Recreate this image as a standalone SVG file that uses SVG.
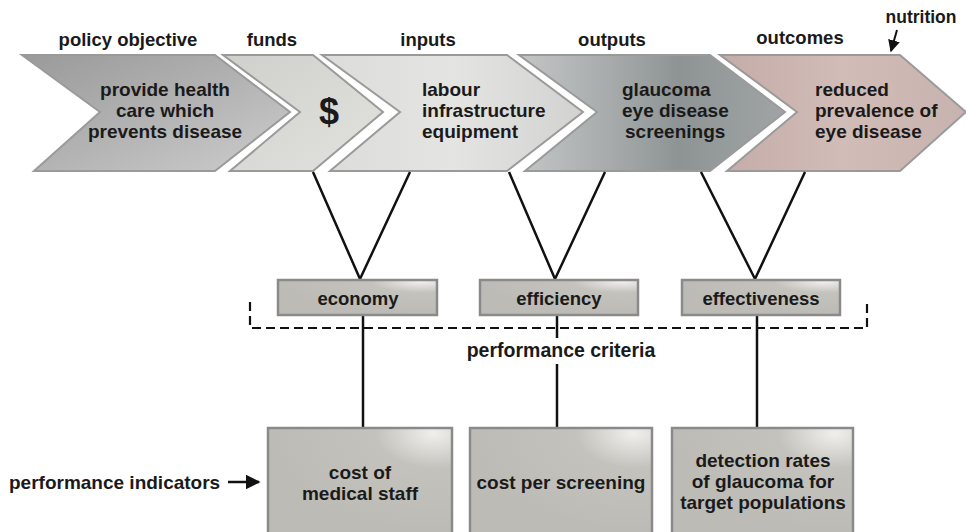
<svg xmlns="http://www.w3.org/2000/svg" width="966" height="532" viewBox="0 0 966 532">
<style>
text{font-family:"Liberation Sans",Arial,sans-serif;font-weight:bold;fill:#1a1a1a}
.h{font-size:18.5px;text-anchor:middle}
.t{font-size:19px}
.s{font-size:18.5px;text-anchor:middle}
.c{text-anchor:middle}
.chev{stroke:#9a9a9a;stroke-width:2}
.box{stroke:#8a8a8a;stroke-width:2.5}
.ln{stroke:#111;stroke-width:2.5;fill:none}
</style>
<defs>
<linearGradient id="g1" x1="0" y1="0" x2="1" y2="1"><stop offset="0" stop-color="#9a9a9a"/><stop offset="0.5" stop-color="#b2b2b2"/><stop offset="1" stop-color="#cdcdcd"/></linearGradient>
<linearGradient id="g2" x1="0" y1="0" x2="1" y2="1"><stop offset="0" stop-color="#cfcfcc"/><stop offset="1" stop-color="#e2e2df"/></linearGradient>
<linearGradient id="g3" x1="0" y1="0" x2="1" y2="0"><stop offset="0" stop-color="#dcdcda"/><stop offset="0.5" stop-color="#e4e4e2"/><stop offset="1" stop-color="#d2d2d0"/></linearGradient>
<linearGradient id="g4" x1="0" y1="0" x2="1" y2="0"><stop offset="0" stop-color="#c4c6c6"/><stop offset="0.35" stop-color="#a6aaaa"/><stop offset="0.6" stop-color="#8e9494"/><stop offset="1" stop-color="#a0a4a4"/></linearGradient>
<linearGradient id="g5" x1="0" y1="0" x2="1" y2="0"><stop offset="0" stop-color="#c4aca8"/><stop offset="0.5" stop-color="#d2bcb8"/><stop offset="1" stop-color="#c6b2ae"/></linearGradient>
<radialGradient id="gb" cx="0.9" cy="0.05" r="0.9"><stop offset="0" stop-color="#f0efec"/><stop offset="0.35" stop-color="#c4c2bc"/><stop offset="1" stop-color="#bdbbb5"/></radialGradient>
<marker id="ah" viewBox="0 0 10 10" refX="9" refY="5" markerWidth="6" markerHeight="6" orient="auto"><path d="M0,0 L10,5 L0,10 z" fill="#111"/></marker>
</defs>

<g id="headers">
<text class="h" x="128" y="46">policy objective</text>
<text class="h" x="272" y="46">funds</text>
<text class="h" x="428" y="46">inputs</text>
<text class="h" x="612" y="46">outputs</text>
<text class="h" x="800" y="44">outcomes</text>
<text class="h" x="921" y="23" style="font-size:17.5px">nutrition</text>
</g>

<g id="chevron-policy">
<polygon class="chev" fill="url(#g1)" points="22,55 215,55 290,112 215,171 34,171 100,112"/>
<text class="t c" x="165" y="96">provide health</text>
<text class="t c" x="165" y="117">care which</text>
<text class="t c" x="165" y="138">prevents disease</text>
</g>
<g id="chevron-funds">
<polygon class="chev" fill="url(#g2)" points="223,55 313,55 383,112 313,171 230,171 300,112"/>
<text x="329" y="124" style="font-size:36px;text-anchor:middle">$</text>
</g>
<g id="chevron-inputs">
<polygon class="chev" fill="url(#g3)" points="322,55 507,55 583,112 507,171 330,171 400,112"/>
<text class="t" x="422" y="96">labour</text>
<text class="t" x="422" y="117">infrastructure</text>
<text class="t" x="422" y="138">equipment</text>
</g>
<g id="chevron-outputs">
<polygon class="chev" fill="url(#g4)" points="519,55 710,55 785,112 710,171 525,171 597,112"/>
<text class="t" x="622" y="96">glaucoma</text>
<text class="t" x="622" y="117">eye disease</text>
<text class="t" x="625" y="138">screenings</text>
</g>
<g id="chevron-outcomes">
<polygon class="chev" fill="url(#g5)" points="720,55 900,55 966,112 900,171 727,171 797,112"/>
<text class="t" x="815" y="96">reduced</text>
<text class="t" x="815" y="117">prevalence of</text>
<text class="t" x="815" y="138">eye disease</text>
</g>

<g id="connectors">
<line class="ln" x1="897" y1="30" x2="891" y2="51" marker-end="url(#ah)" style="stroke-width:2"/>
<polyline class="ln" points="313,172 360,279 410,172"/>
<polyline class="ln" points="509,172 555,279 605,172"/>
<polyline class="ln" points="701,172 755,279 805,172"/>
<line class="ln" x1="363" y1="315" x2="363" y2="428"/>
<line class="ln" x1="557" y1="315" x2="557" y2="338"/>
<line class="ln" x1="557" y1="364" x2="557" y2="428"/>
<line class="ln" x1="757" y1="315" x2="757" y2="428"/>
<polyline points="250,302 250,328 867,328 867,300" fill="none" stroke="#111" stroke-width="2.2" stroke-dasharray="9,5"/>
<line class="ln" x1="228" y1="482" x2="259" y2="482" marker-end="url(#ah)" style="stroke-width:2.5"/>
</g>

<g id="criteria">
<text class="h" x="561" y="357" style="font-size:19.5px">performance criteria</text>
</g>
<g id="box-economy">
<rect class="box" fill="url(#gb)" x="278" y="280" width="159" height="35"/>
<text class="s" x="358" y="305">economy</text>
</g>
<g id="box-efficiency">
<rect class="box" fill="url(#gb)" x="480" y="280" width="158" height="35"/>
<text class="s" x="559" y="305">efficiency</text>
</g>
<g id="box-effectiveness">
<rect class="box" fill="url(#gb)" x="682" y="280" width="158" height="35"/>
<text class="s" x="761" y="305">effectiveness</text>
</g>

<g id="indicators-label">
<text class="t" x="9" y="489">performance indicators</text>
</g>
<g id="box-staff">
<rect class="box" fill="url(#gb)" x="268" y="428" width="184" height="110"/>
<text class="t c" x="360" y="479">cost of</text>
<text class="t c" x="360" y="500">medical staff</text>
</g>
<g id="box-screening">
<rect class="box" fill="url(#gb)" x="470" y="428" width="182" height="110"/>
<text class="t c" x="561" y="489">cost per screening</text>
</g>
<g id="box-detection">
<rect class="box" fill="url(#gb)" x="672" y="428" width="181" height="110"/>
<text class="t c" x="763" y="467">detection rates</text>
<text class="t c" x="763" y="488">of glaucoma for</text>
<text class="t c" x="763" y="509">target populations</text>
</g>
</svg>
